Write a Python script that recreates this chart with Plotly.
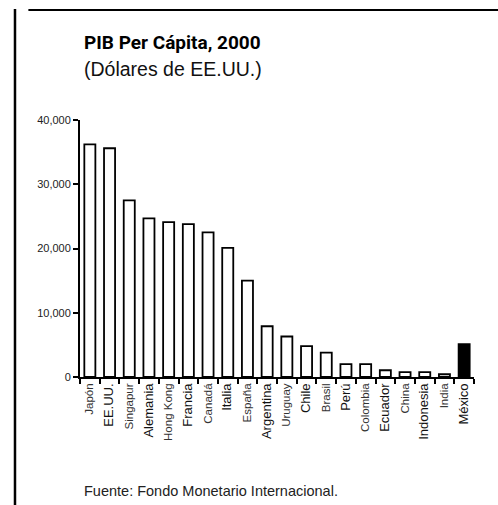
import plotly.graph_objects as go

# GDP per capita, 2000 (US dollars)
countries = ["Japón", "EE.UU.", "Singapur", "Alemania", "Hong Kong", "Francia", "Canadá",
             "Italia", "España", "Argentina", "Uruguay", "Chile", "Brasil", "Perú",
             "Colombia", "Ecuador", "China", "Indonesia", "India", "México"]
gdp = [36200, 35600, 27500, 24700, 24100, 23800, 22500, 20100, 15000, 7900, 6300,
       4800, 3800, 2000, 2000, 1050, 750, 750, 430, 5100]
y_ticks = [0, 10000, 20000, 30000, 40000]
y_tick_labels = ["0", "10,000", "20,000", "30,000", "40,000"]

# alternate label sizes, larger for every other country
tick_text = []
for i, c in enumerate(countries):
    size = 13 if i % 2 == 1 else 11.5
    color = "#111" if i % 2 == 1 else "#333"
    tick_text.append(f'<span style="font-size:{size}px;fill:{color}">{c}</span>')

fills = ["black" if c == "México" else "white" for c in countries]

fig = go.Figure(go.Bar(
    x=countries, y=gdp,
    marker=dict(color=fills, line=dict(color="black", width=1.8)),
))

FONT = "Liberation Sans, Arial, sans-serif"
TITLE_FONT = "Liberation Sans Narrow, Roboto, Liberation Sans, sans-serif"

fig.update_layout(
    width=498, height=505,
    margin=dict(l=80, r=24, t=120, b=128),
    paper_bgcolor="white", plot_bgcolor="white",
    bargap=0.44,
    showlegend=False,
    font=dict(family=FONT, color="#222"),
    xaxis=dict(
        type="category",
        tickmode="array", tickvals=countries, ticktext=tick_text,
        tickangle=-90,
        ticks="outside", tickson="boundaries", ticklen=5, tickwidth=2, tickcolor="black",
        showline=True, linecolor="black", linewidth=2,
        showgrid=False, zeroline=False,
        tickfont=dict(size=11),
    ),
    yaxis=dict(
        range=[0, 40000],
        tickmode="array", tickvals=y_ticks, ticktext=y_tick_labels,
        ticks="outside", ticklen=5, tickwidth=2, tickcolor="black",
        showline=True, linecolor="black", linewidth=2,
        showgrid=False, zeroline=False,
        tickfont=dict(size=11, color="#222"),
    ),
    shapes=[
        dict(type="line", xref="paper", yref="paper", x0=-0.131, x1=1.2, y0=1.428, y1=1.428,
             line=dict(color="black", width=2)),
    ],
    annotations=[
        dict(text="<b>PIB Per Cápita, 2000</b>", xref="paper", yref="paper",
             x=0.006, y=1.3, xanchor="left", yanchor="middle", showarrow=False,
             font=dict(size=19, color="black", family=TITLE_FONT)),
        dict(text="(Dólares de EE.UU.)", xref="paper", yref="paper",
             x=0.006, y=1.2, xanchor="left", yanchor="middle", showarrow=False,
             font=dict(size=19.5, color="#111", family=FONT)),
        dict(text="Fuente: Fondo Monetario Internacional.", xref="paper", yref="paper",
             x=0.006, y=-0.445, xanchor="left", yanchor="middle", showarrow=False,
             font=dict(size=14.5, color="#222", family=FONT)),
    ],
)

# left frame edge
fig.add_shape(type="line", xref="paper", yref="paper", x0=-0.165, x1=-0.165, y0=-0.6, y1=1.432,
              line=dict(color="black", width=2.5))

fig.write_html("out.html")
